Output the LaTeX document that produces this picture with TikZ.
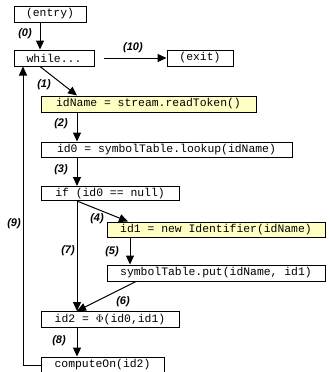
\documentclass[tikz,border=0pt]{standalone}
\usepackage{fontspec}
\setmainfont{Liberation Sans}
\setmonofont{Liberation Mono}
\usetikzlibrary{arrows.meta,calc}
\definecolor{hl}{HTML}{FFFFC4}
\begin{document}
\begin{tikzpicture}[x=1pt,y=-1pt,
  box/.style={draw, line width=1pt, inner sep=0pt, font=\ttfamily\fontsize{11.4}{12}\selectfont},
  hbox/.style={box, fill=hl},
  arr/.style={line width=1pt, -{Triangle[length=9pt,width=8pt]}},
  lab/.style={font=\bfseries\itshape\fontsize{11}{12}\selectfont, inner sep=0pt}]
\useasboundingbox (0,0) rectangle (329,372);
\clip (0,0) rectangle (329,372);
\fill[white] (0,0) rectangle (329,372);
% columns
\coordinate (colA) at (40,0);
\coordinate (colB) at (77,0);
\coordinate (colC) at (130,0);
\coordinate (colD) at (128,0);
\coordinate (colE) at (136,0);
\coordinate (colF) at (23,0);
\coordinate (xstart) at (104,58);
% boxes
\node[box, minimum width=72pt, minimum height=16pt] (entry) at (50,14) {(entry)};
\node[box, minimum width=80pt, minimum height=16pt] (while) at (54,58) {while...};
\node[box, minimum width=66pt, minimum height=16pt] (exit) at (200,58) {(exit)};
\node[hbox, minimum width=215pt, minimum height=16pt] (read) at (148.5,104) {idName = stream.readToken()};
\node[box, minimum width=251pt, minimum height=15pt] (id0) at (166.5,149.5) {id0 = symbolTable.lookup(idName)};
\node[box, minimum width=138pt, minimum height=14pt] (if) at (110,193.5) {if (id0 == null)};
\node[hbox, minimum width=218pt, minimum height=15pt] (id1) at (216,229.5) {id1 = new Identifier(idName)};
\node[box, minimum width=218pt, minimum height=16pt] (put) at (216,273) {symbolTable.put(idName, id1)};
\node[box, minimum width=138pt, minimum height=16pt] (id2) at (110,319.5) {id2 = $\Phi$(id0,id1)};
\node[box, minimum width=123pt, minimum height=16pt] (comp) at (102.5,365) {computeOn(id2)};
% connectors
\draw[arr] (entry.south -| colA) -- (while.north -| colA);
\draw[arr] (xstart) -- (exit.west);
\draw[arr] (while.south -| colA) -- (read.north -| colB);
\draw[arr] (read.south -| colB) -- (id0.north -| colB);
\draw[arr] (id0.south -| colB) -- (if.north -| colB);
\draw[arr] (if.south -| colB) -- (id1.north -| colD);
\draw[arr] (id1.south -| colC) -- (put.north -| colC);
\draw[arr] (if.south -| colB) -- (id2.north -| colB);
\draw[arr] (put.south -| colE) -- (id2.north -| colB);
\draw[arr] (id2.south -| colB) -- (comp.north -| colB);
\draw[arr] (comp.west) -- (comp.west -| colF) -- (while.south -| colF);
% labels
\node[lab] (l0) at (25,34) {(0)};
\node[lab] (l10) at (133,48) {(10)};
\node[lab] (l1) at (44,85) {(1)};
\node[lab] (l2) at (61,124) {(2)};
\node[lab] (l3) at (61,170) {(3)};
\node[lab] (l9) at (14,224) {(9)};
\node[lab] (l4) at (97,219) {(4)};
\node[lab] (l7) at (68,251) {(7)};
\node[lab] (l5) at (112,252) {(5)};
\node[lab] (l6) at (123,302) {(6)};
\node[lab] (l8) at (59,341) {(8)};
\end{tikzpicture}
\end{document}
